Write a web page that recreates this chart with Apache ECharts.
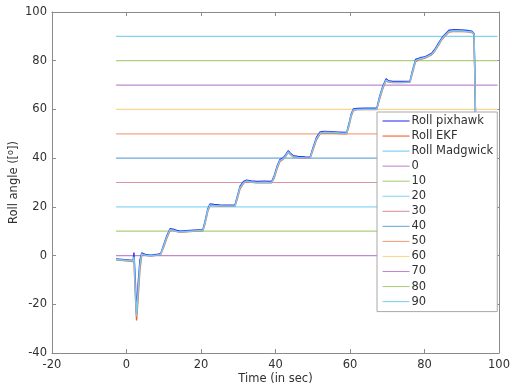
<!DOCTYPE html>
<html>
<head>
<meta charset="utf-8">
<script src="https://cdn.jsdelivr.net/npm/echarts@6/dist/echarts.min.js"></script>
<style>
  html, body { margin: 0; padding: 0; background: #fff; }
  #chart { width: 511px; height: 386px; }
</style>
</head>
<body>
<div id="chart"></div>
<script>
// Sample times (s)
const time = [-2.8, 1.8, 2.0, 2.3, 2.7, 3.1, 3.6, 4.1, 4.5, 5.0, 5.5, 6.5, 7.5, 8.5, 9.2, 10.0, 10.8, 11.7, 12.5, 13.5, 14.5, 16, 18, 20.5,
  21.0, 21.8, 22.4, 23.5, 25, 27, 29.1, 29.7, 30.5, 31.5, 32.2, 33.5, 35, 37, 39, 39.7, 40.5, 41.2, 42.1, 42.8, 43.4, 44.0, 44.8,
  46, 48, 49.3, 50.0, 51.0, 52.0, 53, 55, 57, 59.1, 59.7, 60.3, 60.9, 62, 64, 67.2, 67.9, 68.8, 69.7, 70.3, 71.5, 73.5, 76.1,
  76.7, 77.6, 78.8, 80, 81.9, 82.7, 83.7, 84.6, 85.6, 86.6, 88, 90, 91.5, 92.7, 93.3, 93.5, 93.7];

// Roll angle estimates (deg)
const rollPixhawk = [-1.4, -2.0, 1.2, -8, -24, -12, -2, 1.1, 1.7, 0.5, -0.3, 0.2, 0.4, 0.6, 0.9, 4.5, 8.0, 11.0, 10.8, 10.3, 10.0, 10.2, 10.4, 10.6,
  13.5, 19.0, 21.2, 21.0, 20.8, 20.7, 20.7, 24, 28.5, 30.5, 31.0, 30.6, 30.4, 30.5, 30.4, 33, 37, 39.4, 40.2, 41.5, 43.0, 42.0, 41.0,
  40.7, 40.5, 40.4, 44, 48.5, 50.8, 51.0, 50.9, 50.7, 50.5, 54, 58, 60.2, 60.4, 60.5, 60.5, 65, 69.5, 72.6, 71.8, 71.5, 71.5, 71.6,
  75.5, 80.5, 81.2, 81.5, 83.0, 84.5, 87, 89.2, 91, 92.5, 92.7, 92.6, 92.4, 92.1, 91.2, 75, 57];

const rollEKF = [-1.7, -2.5, -1.5, -14, -26.6, -18, -6, 0.4, 1.2, 0.1, -0.7, -0.2, 0.0, 0.2, 0.5, 3.5, 7.0, 10.3, 10.3, 9.9, 9.6, 9.8, 10.0, 10.2,
  12.5, 18.0, 20.6, 20.5, 20.3, 20.2, 20.2, 23, 27.5, 29.8, 30.4, 30.1, 29.9, 30.0, 29.9, 32, 36, 38.7, 39.6, 40.9, 42.4, 41.5, 40.5,
  40.2, 40.0, 39.9, 43, 47.5, 50.1, 50.4, 50.3, 50.1, 50.0, 53, 57, 59.6, 59.9, 60.0, 60.0, 64, 68.5, 71.9, 71.2, 71.0, 71.0, 71.1,
  74.5, 79.6, 80.6, 81.0, 82.4, 83.8, 86.2, 88.5, 90.3, 91.8, 92.1, 92.0, 91.9, 91.6, 90.8, 75, 57];

const rollMadgwick = [-1.6, -2.2, -0.5, -12, -25, -15, -4, 0.7, 1.4, 0.2, -0.6, -0.1, 0.1, 0.3, 0.6, 4.0, 7.5, 10.6, 10.4, 9.9, 9.7, 9.9, 10.1, 10.3,
  13.0, 18.5, 20.8, 20.6, 20.4, 20.3, 20.3, 23.5, 28.0, 30.0, 30.6, 30.2, 30.0, 30.1, 30.0, 32.5, 36.5, 39.0, 39.8, 41.1, 42.6, 41.6, 40.6,
  40.3, 40.1, 40.0, 43.5, 48.0, 50.3, 50.6, 50.5, 50.3, 50.2, 53.5, 57.5, 59.8, 60.0, 60.1, 60.1, 64.5, 69.0, 72.1, 71.4, 71.1, 71.1, 71.2,
  75.0, 80.0, 80.8, 81.2, 82.6, 84.0, 86.5, 88.8, 90.6, 92.0, 92.3, 92.2, 92.0, 91.8, 91.0, 75, 57];

// Target roll levels drawn as flat reference lines
const refLevels = [0, 10, 20, 30, 40, 50, 60, 70, 80, 90];
const refSpan = [-2.8, 99.6];

const curveNames = ['Roll pixhawk', 'Roll EKF', 'Roll Madgwick'];
const curveColors = ['#3434f2', '#f0602a', '#72cdf2'];
const refColors = ['#c08ad0', '#a9cf7c', '#8ad6f6', '#d8939f', '#6faad9', '#f5a383', '#f6d890', '#c08ad0', '#afd07e', '#82d2f2'];

const xTicks = { min: -20, max: 100, interval: 20 };
const yTicks = { min: -40, max: 100, interval: 20 };

const axisColor = '#8a8a8a';
const textColor = '#303030';
const font = 'DejaVu Sans';

function pairs(ts, vs) { return ts.map((t, i) => [t, vs[i]]); }

const series = [];
const curveData = [rollPixhawk, rollEKF, rollMadgwick];
curveNames.forEach((name, i) => {
  series.push({
    name: name, type: 'line', data: pairs(time, curveData[i]),
    symbol: 'none', z: 5 + i,
    lineStyle: { color: curveColors[i], width: 1.4 },
    itemStyle: { color: curveColors[i] },
    animation: false
  });
});
refLevels.forEach((lv, i) => {
  series.push({
    name: String(lv), type: 'line', data: [[refSpan[0], lv], [refSpan[1], lv]],
    symbol: 'none', z: 2,
    lineStyle: { color: refColors[i], width: 1.2 },
    itemStyle: { color: refColors[i] },
    animation: false
  });
});

const chart = echarts.init(document.getElementById('chart'), null, { renderer: 'canvas' });
chart.setOption({
  animation: false,
  backgroundColor: '#ffffff',
  grid: { left: 52, right: 12, top: 12, bottom: 33, containLabel: false, outerBoundsMode: 'none' },
  xAxis: [{
    type: 'value', ...xTicks,
    name: 'Time (in sec)', nameLocation: 'middle', nameGap: 20, nameMoveOverlap: false,
    nameTextStyle: { color: textColor, fontFamily: font, fontSize: 11.5 },
    axisLine: { show: true, onZero: false, lineStyle: { color: axisColor, width: 1 } },
    axisTick: { show: true, inside: true, length: 4, lineStyle: { color: axisColor } },
    axisLabel: { color: textColor, fontFamily: font, fontSize: 11.5, margin: 6 },
    splitLine: { show: false }
  }, {
    type: 'value', ...xTicks, position: 'top',
    axisLine: { show: true, onZero: false, lineStyle: { color: axisColor, width: 1 } },
    axisTick: { show: true, inside: true, length: 4, lineStyle: { color: axisColor } },
    axisLabel: { show: false }, splitLine: { show: false }
  }],
  yAxis: [{
    type: 'value', ...yTicks,
    name: '{a|Roll angle ([}{s|o}{a|])}', nameLocation: 'middle', nameGap: 31, nameMoveOverlap: false,
    nameTextStyle: {
      color: textColor, fontFamily: font, fontSize: 11.5,
      rich: {
        a: { fontFamily: font, fontSize: 11.5, color: textColor, lineHeight: 14 },
        s: { fontFamily: font, fontSize: 8, color: textColor, lineHeight: 14, verticalAlign: 'top', padding: [0, 0, 6, 0] }
      }
    },
    axisLine: { show: true, onZero: false, lineStyle: { color: axisColor, width: 1 } },
    axisTick: { show: true, inside: true, length: 4, lineStyle: { color: axisColor } },
    axisLabel: { color: textColor, fontFamily: font, fontSize: 11.5, margin: 5 },
    splitLine: { show: false }
  }, {
    type: 'value', ...yTicks, position: 'right',
    axisLine: { show: true, onZero: false, lineStyle: { color: axisColor, width: 1 } },
    axisTick: { show: true, inside: true, length: 4, lineStyle: { color: axisColor } },
    axisLabel: { show: false }, splitLine: { show: false }
  }],
  legend: {
    orient: 'vertical', left: 377, top: 112,
    data: series.map(s => s.name),
    backgroundColor: '#ffffff', borderColor: '#a8a8a8', borderWidth: 1,
    padding: [3, 4, 4, 5],
    itemWidth: 27, itemHeight: 12, itemGap: 3.05,
    itemStyle: { opacity: 0 },
    lineStyle: { width: 1.1 },
    textStyle: { color: textColor, fontFamily: font, fontSize: 11.5, padding: [0, 0, 0, -3] },
    z: 20
  },
  series: series
});
</script>
</body>
</html>
